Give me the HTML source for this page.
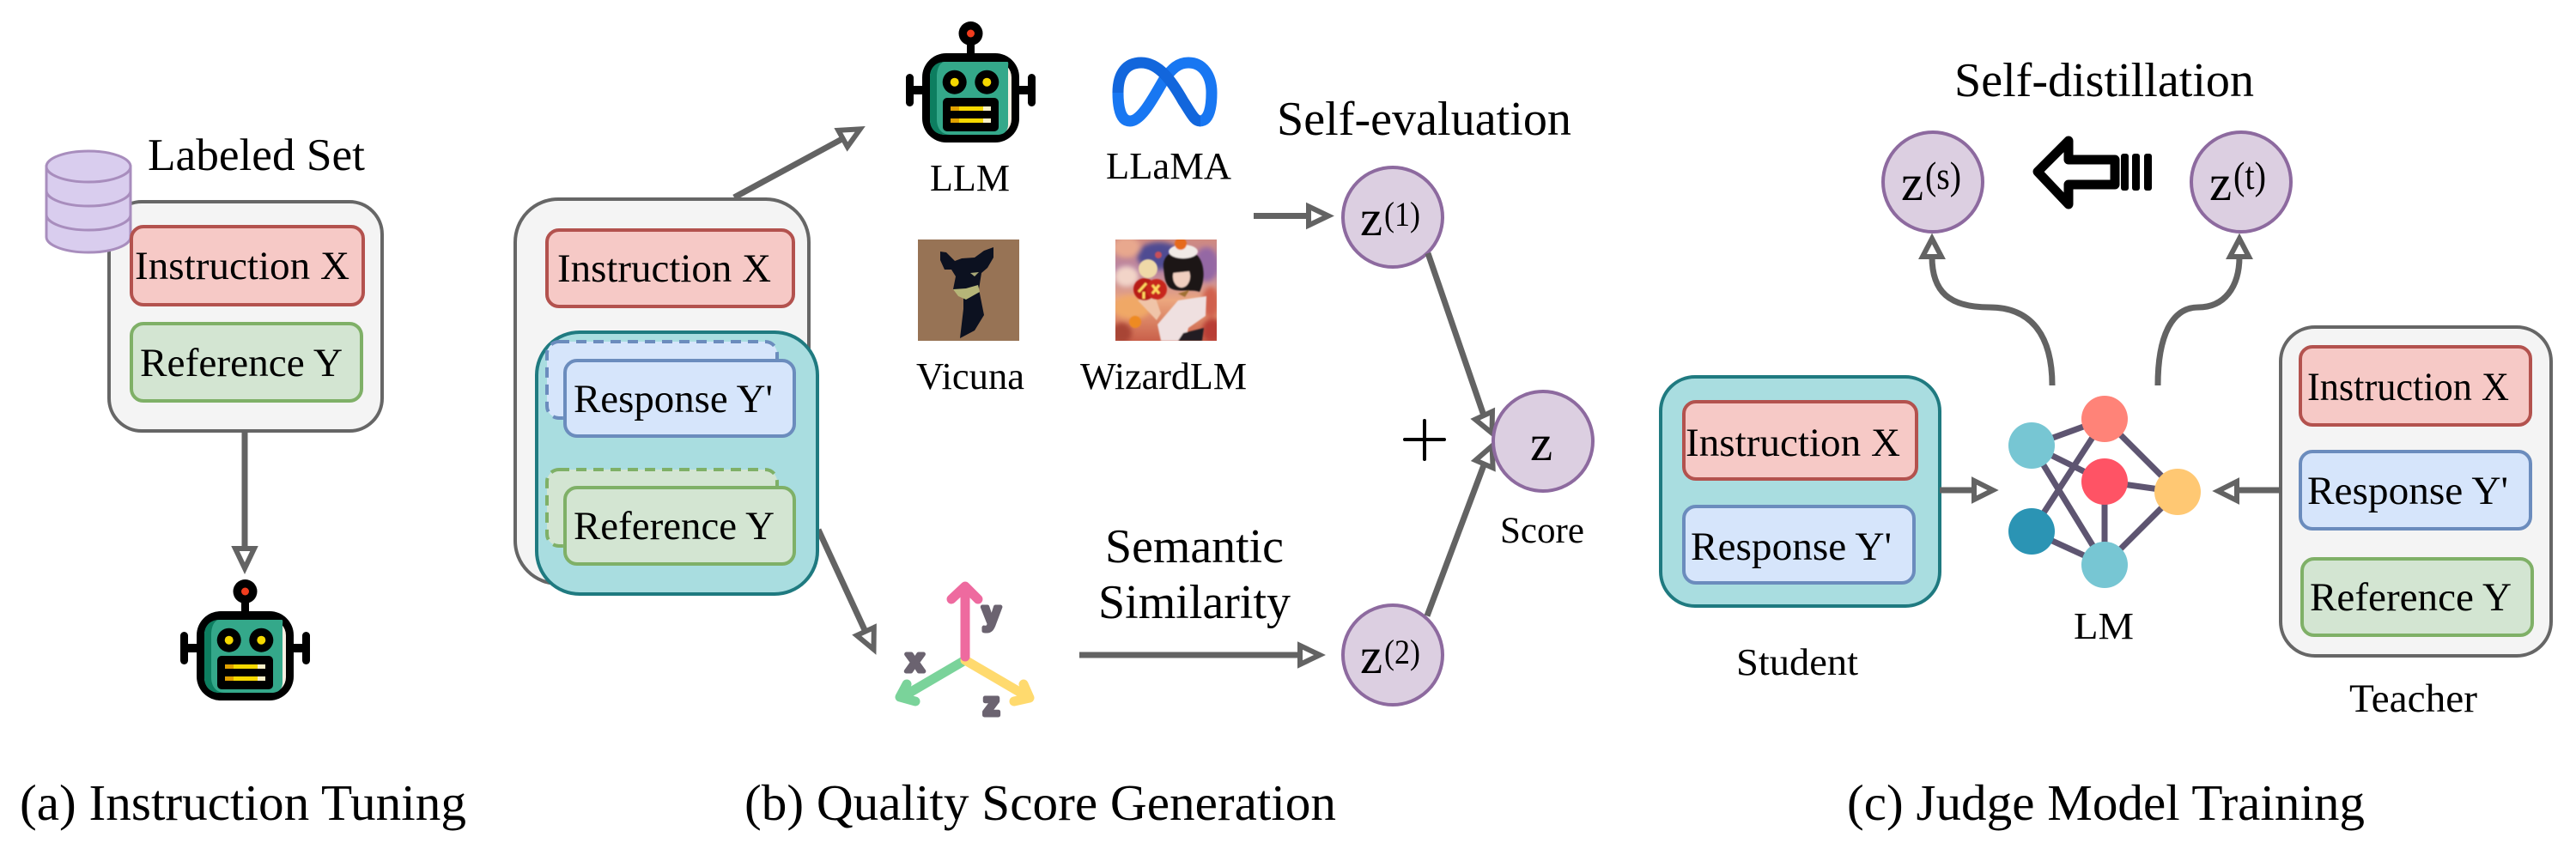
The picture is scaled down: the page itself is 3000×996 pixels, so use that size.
<!DOCTYPE html>
<html><head><meta charset="utf-8"><style>
html,body{margin:0;padding:0;background:#fff}
svg{display:block}
text{font-family:"Liberation Serif",serif;fill:#000}
.box{font-size:47px}
.lb{font-size:44px}
.cap{font-size:59px}
.big{font-size:56px}
.z{font-size:59px}
.s{font-size:40px}
.s2{font-size:46px}
.ln{stroke:#636363;stroke-width:7;fill:none}
.hd{stroke:#636363;stroke-width:6;fill:#fff;stroke-miterlimit:10}
.gray{fill:#f4f4f4;stroke:#666;stroke-width:4}
.teal{fill:#a9dde0;stroke:#1f7a80;stroke-width:4}
.red{fill:#f6c9c6;stroke:#b3524e;stroke-width:4}
.blue{fill:#d6e5fb;stroke:#6b8cbd;stroke-width:4}
.green{fill:#d3e5d2;stroke:#7fb067;stroke-width:4}
.c{fill:#dccfe1;stroke:#8d6a9f;stroke-width:4}
.db{fill:#d9cdee;stroke:#a88dbd;stroke-width:3}
.e{stroke:#5e5571;stroke-width:7}
.ax{font-family:"Liberation Sans",sans-serif;font-weight:bold;font-size:38px;fill:#6b6370;stroke:#6b6370;stroke-width:5;stroke-linejoin:round}
</style></head><body>
<svg width="3000" height="996" viewBox="0 0 3000 996" xmlns="http://www.w3.org/2000/svg">
<defs>
<linearGradient id="wz" x1="0" y1="0" x2="0" y2="1">
<stop offset="0" stop-color="#d08a80"/><stop offset=".3" stop-color="#b884a4"/><stop offset=".6" stop-color="#eca67e"/><stop offset="1" stop-color="#c9604a"/>
</linearGradient>
<filter id="bl"><feGaussianBlur stdDeviation="0.8"/></filter>
<filter id="bl2"><feGaussianBlur stdDeviation="3"/></filter>
<clipPath id="wc"><rect x="1299" y="279" width="118" height="118"/></clipPath>
<g id="robot">
<rect x="210" y="736" width="9" height="38" rx="4.5" fill="#000"/>
<rect x="352" y="736" width="9" height="38" rx="4.5" fill="#000"/>
<rect x="215" y="750" width="20" height="10" fill="#000"/>
<rect x="336" y="750" width="20" height="10" fill="#000"/>
<rect x="281" y="698" width="9" height="18" fill="#000"/>
<circle cx="285.5" cy="689" r="14" fill="#000"/>
<circle cx="285.5" cy="689" r="4.5" fill="#f23d1e"/>
<rect x="229" y="712" width="113" height="104" rx="28" fill="#000"/>
<rect x="238" y="722" width="95" height="85" rx="18" fill="#f6efe2"/>
<path d="M256 722H328C330 722 329 725 329 730V795C329 803 324 807 316 807H256C245 807 238 800 238 789V740C238 729 245 722 256 722Z" fill="#34a88a"/>
<path d="M256 722C245 722 238 729 238 740V789C238 800 245 807 256 807H262C252 807 246 800 246 789V740C246 729 250 722 256 722Z" fill="#0d7e60"/>
<circle cx="266.7" cy="745.7" r="14" fill="#000"/><circle cx="304.3" cy="745.7" r="14" fill="#000"/>
<circle cx="266.7" cy="745.7" r="5" fill="#f5d800"/><circle cx="304.3" cy="745.7" r="5" fill="#f5d800"/>
<rect x="253" y="764" width="65" height="39" rx="5" fill="#000"/>
<rect x="262" y="774" width="47" height="5" fill="#f5d800"/><rect x="262" y="774" width="10" height="5" fill="#e0a000"/><rect x="300" y="774" width="9" height="5" fill="#f9f0c8"/>
<rect x="262" y="788" width="47" height="5" fill="#f5d800"/><rect x="262" y="788" width="10" height="5" fill="#e0a000"/><rect x="300" y="788" width="9" height="5" fill="#f9f0c8"/>
</g>
</defs>

<!-- Panel A -->
<rect class="gray" x="127" y="235" width="318" height="267" rx="38"/>
<g class="db">
<path d="M54 194V276A49 18 0 0 0 152 276V194Z"/>
<ellipse cx="103" cy="194" rx="49" ry="18"/>
<path d="M54 222A49 18 0 0 0 152 222" fill="none"/>
<path d="M54 250A49 18 0 0 0 152 250" fill="none"/>
</g>
<rect class="red" x="153" y="264" width="270" height="91" rx="14"/>
<rect class="green" x="153" y="377" width="268" height="90" rx="14"/>
<text class="box" x="157" y="325" textLength="250" lengthAdjust="spacingAndGlyphs">Instruction X</text>
<text class="box" x="163" y="438" textLength="236" lengthAdjust="spacingAndGlyphs">Reference Y</text>
<text x="172" y="198" font-size="53" textLength="253" lengthAdjust="spacingAndGlyphs">Labeled Set</text>
<line class="ln" x1="285" y1="502" x2="285" y2="639"/>
<polygon class="hd" points="285,662 274,639 296,639"/>
<use href="#robot"/>

<!-- Panel B -->
<line class="ln" x1="855" y1="230" x2="981.6" y2="161.4"/>
<polygon class="hd" points="1001.7,150.4 986.9,171 976.3,151.8"/>
<rect class="gray" x="600" y="232" width="342" height="448" rx="50"/>
<rect class="red" x="637" y="268" width="287" height="89" rx="14"/>
<line class="ln" x1="953" y1="617" x2="1007.8" y2="735.6"/>
<polygon class="hd" points="1017.5,756.5 1017.8,731 997.8,740.2"/>
<rect class="teal" x="625" y="387" width="327" height="305" rx="50"/>
<rect x="637" y="398" width="268" height="89" rx="14" fill="#d6e5fb" stroke="#6b8cbd" stroke-width="4" stroke-dasharray="12 8"/>
<rect class="blue" x="658" y="420" width="267" height="88" rx="14"/>
<rect x="637" y="547" width="268" height="89" rx="14" fill="#d3e5d2" stroke="#7fb067" stroke-width="4" stroke-dasharray="12 8"/>
<rect class="green" x="658" y="568" width="267" height="89" rx="14"/>
<text class="box" x="649" y="328" textLength="249" lengthAdjust="spacingAndGlyphs">Instruction X</text>
<text class="box" x="668" y="480" textLength="232" lengthAdjust="spacingAndGlyphs">Response Y'</text>
<text class="box" x="668" y="628" textLength="234" lengthAdjust="spacingAndGlyphs">Reference Y</text>

<use href="#robot" transform="translate(845,-650)"/>
<text class="lb" x="1083" y="222" textLength="93" lengthAdjust="spacingAndGlyphs">LLM</text>
<!-- meta logo -->
<g fill="none" stroke-width="13">
<path d="M1302 108C1302 128 1306 141 1316 141C1330 141 1345 110 1356 92C1365 80 1372 73 1384 73C1401 73 1411 88 1411 108C1411 128 1407 141 1397 141" stroke="#1877f2"/>
<path d="M1302 108C1302 85 1312 73 1329 73C1350 73 1365 95 1378 118C1388 133 1391 141 1398 141" stroke="#1266dc"/>
</g>
<text class="lb" x="1288" y="208" textLength="146" lengthAdjust="spacingAndGlyphs">LLaMA</text>

<!-- vicuna image -->
<rect x="1069" y="279" width="118" height="118" fill="#977355"/>
<polygon points="1095,293 1102,294 1112,304 1120,301 1135,300 1146,292 1157,288 1157,300 1150,312 1143,318 1140,337 1146,367 1135,385 1118,394 1122,360 1122,347 1110,337 1113,322 1108,314 1100,314 1095,303" fill="#0c1120"/>
<polygon points="1110,337 1125,336 1139,332 1141,340 1125,349 1116,345" fill="#b5b578"/>
<polygon points="1130,318 1140,317 1135,322" fill="#a8a878"/>
<text class="lb" x="1067" y="453" textLength="126" lengthAdjust="spacingAndGlyphs">Vicuna</text>

<!-- wizard image -->
<g clip-path="url(#wc)">
<rect x="1299" y="279" width="118" height="118" fill="url(#wz)"/>
<g filter="url(#bl2)">
<ellipse cx="1350" cy="298" rx="26" ry="16" fill="#4f4c92"/>
<ellipse cx="1312" cy="288" rx="16" ry="12" fill="#e8a88e"/>
<ellipse cx="1405" cy="308" rx="14" ry="20" fill="#9468a4"/>
<ellipse cx="1312" cy="322" rx="14" ry="12" fill="#f2d4c8"/>
<ellipse cx="1318" cy="358" rx="22" ry="14" fill="#f0a866"/>
<ellipse cx="1410" cy="352" rx="10" ry="18" fill="#d0604e"/>
<ellipse cx="1412" cy="385" rx="12" ry="14" fill="#b83e34"/>
<ellipse cx="1306" cy="388" rx="12" ry="12" fill="#a84436"/>
</g>
<g filter="url(#bl)">
<circle cx="1337" cy="313" r="11" fill="#efd9a8"/>
<circle cx="1349" cy="297" r="4" fill="#c8505a"/>
<polygon points="1352,397 1348,378 1372,350 1405,345 1404,368 1384,382 1380,397" fill="#efe0e0"/>
<polygon points="1372,397 1378,388 1402,382 1400,397" fill="#241a24"/>
<path d="M1325 350L1345 345L1352 365L1347 373Z" fill="#f0c4a8"/>
<path d="M1355 312C1353 294 1372 288 1390 294C1404 302 1404 326 1397 340C1388 336 1368 342 1361 334C1356 328 1356 320 1355 312Z" fill="#1a1218"/>
<ellipse cx="1376" cy="322" rx="10" ry="13" fill="#f1cfc0"/>
<path d="M1362 310L1385 305L1385 316L1366 318Z" fill="#1a1218"/>
<ellipse cx="1378" cy="293" rx="17" ry="8" fill="#f0eae6"/>
<circle cx="1375" cy="284" r="7" fill="#e66a1e"/>
<circle cx="1333" cy="337" r="13" fill="#b81a12"/>
<circle cx="1347" cy="337" r="12" fill="#c8261a"/>
<path d="M1326 340L1335 330M1332 340V348M1342 332L1350 342M1350 332L1342 342" stroke="#ffd860" stroke-width="3" fill="none"/>
<circle cx="1322" cy="375" r="7" fill="#ee8a20"/>
<path d="M1372 342L1385 338L1380 346Z" fill="#a07030"/>
</g>
</g>
<text class="lb" x="1258" y="453" textLength="194" lengthAdjust="spacingAndGlyphs">WizardLM</text>

<!-- axes -->
<g fill="none" stroke-linecap="round" stroke-linejoin="round" stroke-width="11">
<path d="M1124 769L1054 810M1056 797L1048 812L1066 817" stroke="#7ad39a"/>
<path d="M1124 769L1194 810M1192 797L1199 813L1181 817" stroke="#ffda6e"/>
<path d="M1124 765V686M1108 698L1124 683L1139 698" stroke="#ee6a9f"/>
</g>
<text class="ax" x="1055" y="782">x</text>
<text class="ax" x="1144" y="727">y</text>
<text class="ax" x="1145" y="833">z</text>

<line class="ln" x1="1257" y1="763" x2="1514" y2="763"/>
<polygon class="hd" points="1537,763 1514,752 1514,774"/>
<text class="big" x="1287" y="655" textLength="208" lengthAdjust="spacingAndGlyphs">Semantic</text>
<text class="big" x="1279" y="720" textLength="224" lengthAdjust="spacingAndGlyphs">Similarity</text>
<text class="big" x="1487" y="157" textLength="343" lengthAdjust="spacingAndGlyphs">Self-evaluation</text>

<line class="ln" x1="1460" y1="251.5" x2="1524" y2="251.5"/>
<polygon class="hd" points="1547,251.5 1524,240.5 1524,262.5"/>
<circle class="c" cx="1622" cy="253" r="58"/>
<text class="z" x="1584" y="274">z</text><text class="s" x="1612" y="263" textLength="42" lengthAdjust="spacingAndGlyphs">(1)</text>
<circle class="c" cx="1622" cy="763" r="58"/>
<text class="z" x="1584" y="784">z</text><text class="s" x="1612" y="773" textLength="42" lengthAdjust="spacingAndGlyphs">(2)</text>
<line class="ln" x1="1663" y1="295" x2="1728" y2="484"/>
<polygon class="hd" points="1737.5,504.5 1738,479.4 1718,488.6"/>
<line class="ln" x1="1662" y1="717.5" x2="1728.5" y2="540.6"/>
<polygon class="hd" points="1737.6,519.5 1738.6,545 1718.4,536.2"/>
<circle class="c" cx="1797" cy="514" r="58"/>
<text class="z" x="1782" y="536">z</text>
<path d="M1636 512H1682M1659 490V535" stroke="#000" stroke-width="4" stroke-linecap="round" fill="none"/>
<text x="1747" y="632" font-size="43" textLength="98" lengthAdjust="spacingAndGlyphs">Score</text>

<!-- Panel C -->
<rect class="teal" x="1934" y="439" width="325" height="267" rx="40"/>
<rect class="red" x="1961" y="468" width="271" height="90" rx="14"/>
<rect class="blue" x="1961" y="590" width="268" height="89" rx="14"/>
<text class="box" x="1963" y="531" textLength="250" lengthAdjust="spacingAndGlyphs">Instruction X</text>
<text class="box" x="1969" y="652" textLength="234" lengthAdjust="spacingAndGlyphs">Response Y'</text>
<text class="lb" x="2022" y="786" textLength="142" lengthAdjust="spacingAndGlyphs">Student</text>
<line class="ln" x1="2259" y1="571" x2="2299" y2="571"/>
<polygon class="hd" points="2321,571 2299,560 2299,582"/>

<g class="e">
<line x1="2366" y1="519" x2="2451" y2="488"/>
<line x1="2366" y1="519" x2="2451" y2="561"/>
<line x1="2366" y1="519" x2="2451" y2="658"/>
<line x1="2451" y1="488" x2="2366" y2="619"/>
<line x1="2451" y1="488" x2="2536" y2="573"/>
<line x1="2451" y1="561" x2="2536" y2="573"/>
<line x1="2451" y1="561" x2="2451" y2="658"/>
<line x1="2536" y1="573" x2="2451" y2="658"/>
<line x1="2366" y1="619" x2="2451" y2="658"/>
</g>
<circle cx="2366" cy="519" r="27" fill="#77c6d3"/>
<circle cx="2451" cy="488" r="27" fill="#ff8378"/>
<circle cx="2451" cy="561" r="27" fill="#ff5365"/>
<circle cx="2536" cy="573" r="27" fill="#ffc873"/>
<circle cx="2366" cy="619" r="27" fill="#2b94b4"/>
<circle cx="2451" cy="658" r="27" fill="#77c6d3"/>
<text class="lb" x="2415" y="744" textLength="70" lengthAdjust="spacingAndGlyphs">LM</text>

<rect class="gray" x="2656" y="381" width="315" height="383" rx="40"/>
<rect class="red" x="2679" y="404" width="268" height="91" rx="14"/>
<rect class="blue" x="2679" y="526" width="268" height="90" rx="14"/>
<rect class="green" x="2681" y="651" width="268" height="89" rx="14"/>
<text class="box" x="2687" y="466" textLength="235" lengthAdjust="spacingAndGlyphs">Instruction X</text>
<text class="box" x="2687" y="587" textLength="234" lengthAdjust="spacingAndGlyphs">Response Y'</text>
<text class="box" x="2690" y="711" textLength="235" lengthAdjust="spacingAndGlyphs">Reference Y</text>
<text class="box" x="2736" y="829" textLength="149" lengthAdjust="spacingAndGlyphs">Teacher</text>
<line class="ln" x1="2605" y1="571" x2="2656" y2="571"/>
<polygon class="hd" points="2583,572 2605,561 2605,583"/>

<path class="ln" d="M2390 449C2390 390 2365 358 2317 358C2270 358 2250 340 2250 299"/>
<polygon class="hd" points="2250,278 2239,299 2261,299"/>
<path class="ln" d="M2513 449C2513 390 2530 358 2560 358C2590 358 2608 335 2608 299"/>
<polygon class="hd" points="2608,278 2597,299 2619,299"/>
<circle class="c" cx="2251" cy="212" r="58"/>
<text class="z" x="2214" y="233">z</text><text class="s2" x="2242" y="220" textLength="42" lengthAdjust="spacingAndGlyphs">(s)</text>
<circle class="c" cx="2610" cy="212" r="58"/>
<text class="z" x="2573" y="233">z</text><text class="s2" x="2601" y="220" textLength="38" lengthAdjust="spacingAndGlyphs">(t)</text>

<path d="M2373 200L2409 164V186H2463V215H2409V238Z" fill="#fff" stroke="#000" stroke-width="11" stroke-linejoin="round"/>
<rect x="2470" y="179" width="9" height="43" rx="3"/><rect x="2483" y="179" width="9" height="43" rx="3"/><rect x="2497" y="179" width="9" height="43" rx="3"/>
<text class="big" x="2276" y="112" textLength="349" lengthAdjust="spacingAndGlyphs">Self-distillation</text>

<!-- captions -->
<text class="cap" x="23" y="955" textLength="520" lengthAdjust="spacingAndGlyphs">(a) Instruction Tuning</text>
<text class="cap" x="867" y="955" textLength="689" lengthAdjust="spacingAndGlyphs">(b) Quality Score Generation</text>
<text class="cap" x="2151" y="955" textLength="603" lengthAdjust="spacingAndGlyphs">(c) Judge Model Training</text>
</svg>
</body></html>
